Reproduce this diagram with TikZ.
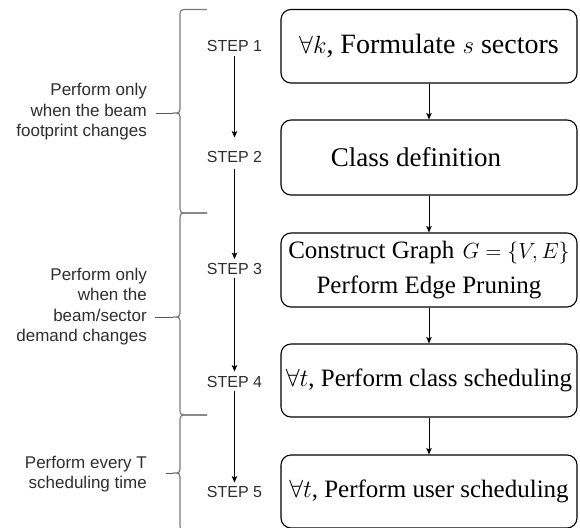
\documentclass[tikz,border=0pt]{standalone}
\usepackage{fontspec}
\usepackage{graphicx}
\setmainfont{Liberation Serif}
\newfontfamily\arialf{Liberation Sans}
\usetikzlibrary{arrows.meta}
\definecolor{txtgray}{HTML}{2E2E2E}
\definecolor{bracegray}{HTML}{7A7A7A}
\begin{document}
\begin{tikzpicture}[x=1pt,y=-1pt,
  box/.style={draw=black, line width=1.1pt, rounded corners=10pt, minimum width=296pt,
    inner sep=0pt, align=center},
  big/.style={font=\fontsize{27}{32}\selectfont},
  mid/.style={font=\fontsize{25}{35}\selectfont},
  steplbl/.style={inner sep=0pt, text height=11.5pt, text depth=0pt, text=txtgray,
    font=\arialf\fontsize{16}{19}\selectfont},
  sidelbl/.style={inner sep=0pt, anchor=east, align=right, text=txtgray,
    font=\arialf\fontsize{17}{20.5}\selectfont},
  flow/.style={draw=black, line width=0.9pt, -{Stealth[length=6.5pt,width=5.5pt,inset=1.5pt]}},
  bracestyle/.style={draw=bracegray, line width=1.2pt},
  lline/.style={draw=txtgray!80, line width=1pt}
]
\useasboundingbox (0,0) rectangle (580,527);

% boxes
\node[box, big, minimum height=73.5pt, font=\fontsize{28}{32}\selectfont] (b1) at (429,46.25) {$\forall k$, Formulate $s$ sectors};
\node[box, big, minimum height=75pt] (b2) at (429,157.5) {Class definition\hspace{26pt}};
\node[box, mid, minimum height=74pt] (b3) at (429,270) {Construct Graph \hspace{2pt}\scalebox{0.88}{$G=\{V,E\}$}\\Perform Edge Pruning\hspace{8pt}};
\node[box, mid, minimum height=73pt] (b4) at (429,380.5) {$\forall t$, Perform class scheduling};
\node[box, mid, minimum height=73pt] (b5) at (429,491.5) {$\forall t$, Perform user scheduling};

\draw[flow] (b1) -- (b2);
\draw[flow] (b2) -- (b3);
\draw[flow] (b3) -- (b4);
\draw[flow] (b4) -- (b5);

% step labels
\node[steplbl] (s1) at (234.5,46) {STEP 1};
\node[steplbl] (s2) at (234.5,156.5) {STEP 2};
\node[steplbl] (s3) at (234.5,269) {STEP 3};
\node[steplbl] (s4) at (234.5,381.5) {STEP 4};
\node[steplbl] (s5) at (234.5,491.5) {STEP 5};

\draw[flow] ([yshift=-4pt]s1.south) -- ([yshift=13pt]s2.north);
\draw[flow] ([yshift=-7pt]s2.south) -- ([yshift=4pt]s3.north);
\draw[flow] ([yshift=-3pt]s3.south) -- ([yshift=4pt]s4.north);
\draw[flow] ([yshift=-4pt]s4.south) -- ([yshift=3pt]s5.north);

% braces
\draw[bracestyle] (207,9.5) -- (188,9.5) .. controls (180,9.5) .. (180,17.5) -- (180,105)
  .. controls (180,113) .. (173,113) .. controls (180,113) .. (180,121) -- (180,205)
  .. controls (180,213) .. (188,213) -- (207,213);
\draw[bracestyle] (207,213) -- (188,213) .. controls (180,213) .. (180,221) -- (180,309)
  .. controls (180,317) .. (173,317) .. controls (180,317) .. (180,325) -- (180,407)
  .. controls (180,415) .. (188,415) -- (207,415);
\draw[bracestyle] (207,415) -- (188,415) .. controls (180,415) .. (180,423) -- (180,465)
  .. controls (180,473) .. (173,473) .. controls (180,473) .. (180,481) -- (180,523)
  .. controls (180,531) .. (188,531) -- (207,531);
\coordinate (t1) at (173,113);
\coordinate (t2) at (173,317);
\coordinate (t3) at (173,473);

% side labels
\node[sidelbl] (l1) at (147,111.7) {Perform only\\when the beam\\footprint changes};
\node[sidelbl] (l2) at (147,306.5) {Perform only\\when the\\beam/sector\\demand changes};
\node[sidelbl] (l3) at (147,474) {Perform every T\\scheduling time};

\draw[lline] ([xshift=9pt]l1.east |- t1) -- (t1);
\draw[lline] ([xshift=8pt]l2.east |- t2) -- (t2);
\draw[lline] ([xshift=19pt]l3.east |- t3) -- (t3);
\end{tikzpicture}
\end{document}
